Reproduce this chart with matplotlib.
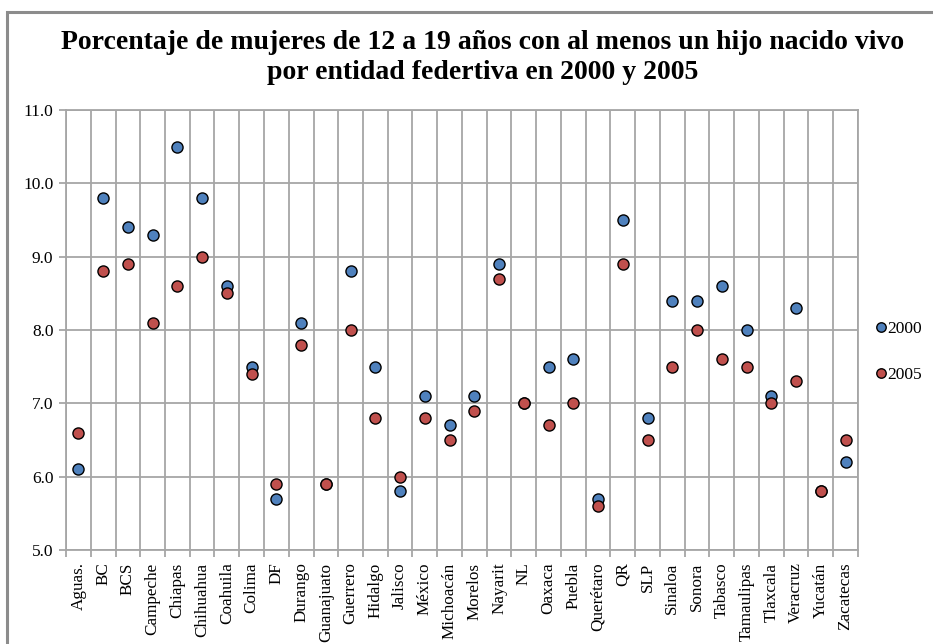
import numpy as np
import matplotlib
matplotlib.use("Agg")
import matplotlib.pyplot as plt
from matplotlib.patches import Rectangle

# entidades federativas
entidades = ["Aguas.", "BC", "BCS", "Campeche", "Chiapas", "Chihuahua", "Coahuila",
             "Colima", "DF", "Durango", "Guanajuato", "Guerrero", "Hidalgo", "Jalisco",
             "México", "Michoacán", "Morelos", "Nayarit", "NL", "Oaxaca", "Puebla",
             "Querétaro", "QR", "SLP", "Sinaloa", "Sonora", "Tabasco", "Tamaulipas",
             "Tlaxcala", "Veracruz", "Yucatán", "Zacatecas"]

# porcentajes
pct_2000 = [6.1, 9.8, 9.4, 9.3, 10.5, 9.8, 8.6, 7.5, 5.7, 8.1, 5.9, 8.8, 7.5, 5.8,
            7.1, 6.7, 7.1, 8.9, 7.0, 7.5, 7.6, 5.7, 9.5, 6.8, 8.4, 8.4, 8.6, 8.0,
            7.1, 8.3, 5.8, 6.2]
pct_2005 = [6.6, 8.8, 8.9, 8.1, 8.6, 9.0, 8.5, 7.4, 5.9, 7.8, 5.9, 8.0, 6.8, 6.0,
            6.8, 6.5, 6.9, 8.7, 7.0, 6.7, 7.0, 5.6, 8.9, 6.5, 7.5, 8.0, 7.6, 7.5,
            7.0, 7.3, 5.8, 6.5]

yticks = [5.0, 6.0, 7.0, 8.0, 9.0, 10.0, 11.0]

blue = "#4F81BD"
red = "#C0504D"
grid_color = "#A6A6A6"

plt.rcParams["font.family"] = ["Liberation Serif", "DejaVu Serif"]

fig = plt.figure(figsize=(9.33, 6.44), dpi=100)
ax = fig.add_axes([66/933, 1 - 550/644, (858-66)/933, (550-110)/644])

n = len(entidades)
x = np.arange(n)

ax.plot(x, pct_2000, "o", color=blue, mec="black", mew=1.0, ms=8, label="2000", zorder=3)
ax.plot(x, pct_2005, "o", color=red, mec="black", mew=1.0, ms=8, label="2005", zorder=4)

ax.set_xlim(-0.5, n - 0.5)
ax.set_ylim(5.0, 11.0)
ax.set_yticks(yticks)
ax.set_yticklabels([f"{v:.1f}" for v in yticks], fontsize=12.5)

# category labels at centers, gridlines/ticks at boundaries
ax.set_xticks(x)
ax.set_xticklabels(entidades, rotation=90, fontsize=12.3)
ax.tick_params(axis="x", which="major", length=0, pad=9)
ax.set_xticks(np.arange(-0.5, n, 1.0), minor=True)
ax.tick_params(axis="x", which="minor", length=5, color=grid_color, width=1.3, direction="out")
ax.tick_params(axis="y", length=5, color=grid_color, width=1.3, pad=4)

ax.grid(True, axis="y", which="major", color=grid_color, linewidth=1.3)
ax.grid(True, axis="x", which="minor", color=grid_color, linewidth=1.3)
ax.grid(False, axis="x", which="major")
ax.set_axisbelow(True)

for s in ax.spines.values():
    s.set_color(grid_color)
    s.set_linewidth(1.3)

fig.text(483/933, 1 - 49/644, "Porcentaje de mujeres de 12 a 19 años con al menos un hijo nacido vivo",
         ha="center", va="baseline", fontsize=20, fontweight="bold")
fig.text(483/933, 1 - 79/644, "por entidad federtiva en 2000 y 2005",
         ha="center", va="baseline", fontsize=20, fontweight="bold")

ax.legend(loc="center left", bbox_to_anchor=(1.01, 0.45), frameon=False,
          fontsize=12.5, handlelength=0.7, handletextpad=0.05, labelspacing=1.75,
          markerscale=0.85, borderpad=0)

# outer frame of the chart
fig.patches.append(Rectangle((7/933, -0.2), 1.2, 1 - 12/644 + 0.2, transform=fig.transFigure,
                             fill=False, edgecolor="#8C8C8C", linewidth=2.2))

fig.savefig("out.png", dpi=100)
